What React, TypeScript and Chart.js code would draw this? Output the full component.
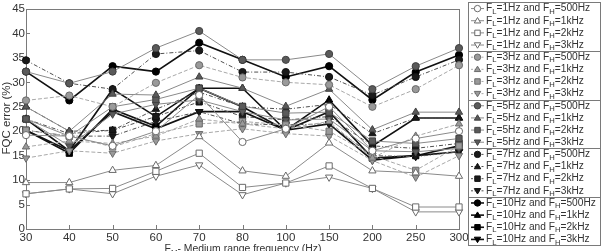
import React, { useEffect, useRef } from 'react';
import { Chart, registerables } from 'chart.js';
Chart.register(...registerables);

const categories = ['30', '40', '50', '60', '70', '80', '100', '150', '200', '250', '300'];
const yMin = 0;
const yMax = 45;
const yStep = 5;

const fl1_fh500 = [19.2, 19.0, 17.0, 20.0, 27.4, 17.8, 20.5, 25.0, 16.0, 18.5, 20.0];
const fl1_fh1k = [9.5, 9.5, 12.0, 13.0, 18.9, 11.9, 10.8, 17.6, 11.9, 11.5, 10.8];
const fl1_fh2k = [7.2, 8.2, 8.3, 11.8, 15.5, 8.5, 9.4, 12.9, 8.3, 4.5, 4.5];
const fl1_fh3k = [7.2, 8.2, 7.2, 10.8, 13.1, 7.0, 9.4, 10.6, 8.3, 3.5, 3.5];

const fl3_fh500 = [26.3, 27.3, 25.0, 29.9, 33.5, 31.0, 30.0, 29.5, 25.0, 28.6, 33.5];
const fl3_fh1k = [16.8, 18.0, 17.5, 19.0, 22.5, 21.5, 20.5, 22.0, 14.5, 19.0, 21.5];
const fl3_fh2k = [20.2, 19.0, 16.8, 19.5, 21.5, 22.0, 21.3, 20.0, 15.0, 12.0, 17.0];
const fl3_fh3k = [14.5, 16.0, 15.5, 18.0, 19.5, 20.5, 19.5, 19.0, 14.0, 10.6, 15.0];

const fl5_fh500 = [32.2, 29.8, 32.2, 37.0, 40.5, 34.6, 34.6, 35.8, 28.6, 33.3, 37.0];
const fl5_fh1k = [25.0, 20.0, 27.6, 27.4, 31.1, 28.8, 25.1, 28.6, 20.3, 23.9, 23.9];
const fl5_fh2k = [22.5, 19.0, 25.0, 26.5, 28.8, 25.1, 23.7, 23.9, 18.0, 17.5, 18.5];
const fl5_fh3k = [22.5, 17.0, 23.5, 25.5, 26.4, 24.0, 22.3, 22.5, 16.0, 15.8, 16.5];

const fl7_fh500 = [34.5, 29.8, 28.6, 35.8, 36.5, 32.1, 32.1, 31.1, 27.4, 31.1, 34.6];
const fl7_fh1k = [25.0, 20.0, 20.2, 24.5, 28.0, 25.0, 24.5, 25.5, 19.5, 22.7, 22.7];
const fl7_fh2k = [22.5, 19.5, 20.2, 23.0, 26.0, 23.0, 22.3, 23.0, 17.0, 16.5, 17.5];
const fl7_fh3k = [20.2, 19.0, 19.0, 22.0, 24.0, 21.5, 21.3, 21.5, 15.0, 14.8, 15.8];

const fl10_fh500 = [32.2, 26.3, 33.3, 32.2, 38.1, 34.6, 31.1, 33.3, 26.4, 32.1, 35.6];
const fl10_fh1k = [22.5, 16.0, 28.6, 23.0, 28.8, 28.8, 20.2, 26.4, 17.0, 22.7, 22.7];
const fl10_fh2k = [20.2, 15.5, 24.5, 21.0, 28.8, 25.0, 20.2, 24.0, 14.5, 15.0, 17.0];
const fl10_fh3k = [20.2, 16.0, 24.0, 20.5, 24.0, 24.0, 20.2, 21.5, 14.1, 15.0, 15.8];

const flLabels = ['1Hz', '3Hz', '5Hz', '7Hz', '10Hz'];
const fhLabels = ['500Hz', '1kHz', '2kHz', '3kHz'];
const seriesData = [
  [fl1_fh500, fl1_fh1k, fl1_fh2k, fl1_fh3k],
  [fl3_fh500, fl3_fh1k, fl3_fh2k, fl3_fh3k],
  [fl5_fh500, fl5_fh1k, fl5_fh2k, fl5_fh3k],
  [fl7_fh500, fl7_fh1k, fl7_fh2k, fl7_fh3k],
  [fl10_fh500, fl10_fh1k, fl10_fh2k, fl10_fh3k],
];

const FONT = '"Liberation Sans", Arial, sans-serif';

const groupStyles = [
  { line: '#8a8a8a', width: 1, dash: [] as number[], fill: '#ffffff', border: '#6a6a6a' },
  { line: '#a8a8a8', width: 1, dash: [4, 2], fill: '#9a9a9a', border: '#6a6a6a' },
  { line: '#8a8a8a', width: 1, dash: [] as number[], fill: '#5a5a5a', border: '#404040' },
  { line: '#505050', width: 1, dash: [4, 2, 1, 2], fill: '#1a1a1a', border: '#111111' },
  { line: '#111111', width: 1.6, dash: [] as number[], fill: '#000000', border: '#000000' },
];
const shapeStyles = [
  { style: 'circle', rotation: 0, radius: 3.6 },
  { style: 'triangle', rotation: 0, radius: 4.2 },
  { style: 'rect', rotation: 0, radius: 4.4 },
  { style: 'triangle', rotation: 180, radius: 4.2 },
];

type Part = { t: string; sub?: boolean };

function drawRich(ctx: CanvasRenderingContext2D, parts: Part[], x: number, y: number, size: number, measureOnly = false) {
  let cx = x;
  for (const p of parts) {
    const s = p.sub ? size * 0.75 : size;
    ctx.font = `${s}px ${FONT}`;
    if (!measureOnly) ctx.fillText(p.t, cx, p.sub ? y + size * 0.3 : y);
    cx += ctx.measureText(p.t).width;
  }
  return cx - x;
}

function fitSize(ctx: CanvasRenderingContext2D, parts: Part[], target: number) {
  const w = drawRich(ctx, parts, 0, 0, 10, true);
  return (10 * target) / w;
}

function drawMarker(ctx: CanvasRenderingContext2D, shape: number, x: number, y: number, fill: string, border: string) {
  ctx.save();
  ctx.fillStyle = fill;
  ctx.strokeStyle = border;
  ctx.lineWidth = 1;
  ctx.setLineDash([]);
  ctx.beginPath();
  const r = 3.2;
  if (shape === 0) {
    ctx.arc(x, y, r, 0, Math.PI * 2);
  } else if (shape === 2) {
    ctx.rect(x - r * 0.85, y - r * 0.85, r * 1.7, r * 1.7);
  } else {
    const d = shape === 1 ? 1 : -1;
    ctx.moveTo(x, y - d * r);
    ctx.lineTo(x + r, y + d * r * 0.7);
    ctx.lineTo(x - r, y + d * r * 0.7);
    ctx.closePath();
  }
  ctx.fill();
  ctx.stroke();
  ctx.restore();
}

const overlayPlugin = {
  id: 'overlay',
  beforeDatasetsDraw(chart: any) {
    const ctx: CanvasRenderingContext2D = chart.ctx;
    const { left, right, top, bottom } = chart.chartArea;
    ctx.save();
    ctx.strokeStyle = '#7a7a7a';
    ctx.lineWidth = 1;
    ctx.strokeRect(Math.round(left) + 0.5, Math.round(top) + 0.5, Math.round(right - left), Math.round(bottom - top));
    const xs = chart.scales.x;
    const ys = chart.scales.y;
    ctx.beginPath();
    for (let i = 0; i < categories.length; i++) {
      const px = Math.round(xs.getPixelForValue(i)) + 0.5;
      ctx.moveTo(px, bottom);
      ctx.lineTo(px, bottom - 4);
    }
    for (let v = yMin; v <= yMax; v += yStep) {
      const py = Math.round(ys.getPixelForValue(v)) + 0.5;
      ctx.moveTo(left, py);
      ctx.lineTo(left + 4, py);
    }
    ctx.stroke();
    ctx.restore();
  },
  afterDraw(chart: any) {
    const ctx: CanvasRenderingContext2D = chart.ctx;
    ctx.save();
    ctx.fillStyle = '#333333';
    ctx.textBaseline = 'alphabetic';
    const titleParts: Part[] = [{ t: 'F' }, { t: 'M', sub: true }, { t: '- Medium range frequency (Hz)' }];
    const ts = Math.min(12.5, fitSize(ctx, titleParts, 157));
    const tw = drawRich(ctx, titleParts, 0, 0, ts, true);
    drawRich(ctx, titleParts, 243 - tw / 2, 251.5, ts);

    ctx.save();
    ctx.translate(7, 118);
    ctx.rotate(-Math.PI / 2);
    ctx.font = `11.5px ${FONT}`;
    ctx.textAlign = 'center';
    ctx.textBaseline = 'middle';
    ctx.fillText('FQC error (%)', 0, 0);
    ctx.restore();

    const bx = 468.5, by = 2.5, bw = 132, bh = 243;
    const rowH = bh / 20;
    ctx.strokeStyle = '#7a7a7a';
    ctx.lineWidth = 1;
    ctx.strokeRect(bx, by, bw, bh);
    ctx.beginPath();
    for (let g = 1; g < 5; g++) {
      const sy = Math.round(by + g * 4 * rowH) + 0.5;
      ctx.moveTo(bx, sy);
      ctx.lineTo(bx + bw, sy);
    }
    ctx.stroke();
    const longest: Part[] = [
      { t: 'F' }, { t: 'L', sub: true }, { t: '=10Hz and F' }, { t: 'H', sub: true }, { t: '=500Hz' },
    ];
    const ls = fitSize(ctx, longest, 110);
    ctx.textBaseline = 'middle';
    for (let g = 0; g < 5; g++) {
      const gs = groupStyles[g];
      for (let s = 0; s < 4; s++) {
        const i = g * 4 + s;
        const cy = by + (i + 0.5) * rowH;
        ctx.save();
        ctx.strokeStyle = gs.line;
        ctx.lineWidth = gs.width;
        ctx.setLineDash(gs.dash.length ? [2, 1.5] : []);
        ctx.beginPath();
        ctx.moveTo(471, cy);
        ctx.lineTo(484, cy);
        ctx.stroke();
        ctx.restore();
        drawMarker(ctx, s, 477.5, cy, gs.fill, gs.border);
        ctx.fillStyle = '#333333';
        const parts: Part[] = [
          { t: 'F' }, { t: 'L', sub: true }, { t: '=' + flLabels[g] + ' and F' },
          { t: 'H', sub: true }, { t: '=' + fhLabels[s] },
        ];
        drawRich(ctx, parts, 486, cy, ls);
      }
    }
    ctx.restore();
  },
};

export default function App() {
  const ref = useRef<HTMLCanvasElement | null>(null);
  useEffect(() => {
    document.body.style.margin = '0';
    const canvas = ref.current;
    if (!canvas) return;
    const datasets: any[] = [];
    for (let g = 0; g < 5; g++) {
      for (let s = 0; s < 4; s++) {
        const gs = groupStyles[g];
        const sh = shapeStyles[s];
        datasets.push({
          label: `FL=${flLabels[g]} and FH=${fhLabels[s]}`,
          data: seriesData[g][s],
          borderColor: gs.line,
          borderWidth: gs.width,
          borderDash: gs.dash,
          backgroundColor: gs.fill,
          pointBackgroundColor: gs.fill,
          pointBorderColor: gs.border,
          pointBorderWidth: 1,
          pointStyle: sh.style,
          pointRotation: sh.rotation,
          pointRadius: sh.radius,
          tension: 0,
          fill: false,
          clip: false,
        });
      }
    }
    const chart = new Chart(canvas, {
      type: 'line',
      data: { labels: categories, datasets },
      options: {
        responsive: false,
        animation: false,
        devicePixelRatio: 1,
        layout: { padding: { top: 9, right: 144, left: 0, bottom: 0 } },
        plugins: { legend: { display: false }, tooltip: { enabled: false } },
        scales: {
          x: {
            type: 'category',
            offset: false,
            grid: { display: false, drawTicks: false },
            border: { display: false },
            ticks: { color: '#333', font: { family: FONT, size: 11.5 }, padding: 2, maxRotation: 0, autoSkip: false },
            afterFit: (scale: any) => { scale.height = 22; },
          },
          y: {
            min: yMin,
            max: yMax,
            grid: { display: false, drawTicks: false },
            border: { display: false },
            ticks: { stepSize: yStep, color: '#333', font: { family: FONT, size: 11.5 }, padding: 1 },
            afterFit: (scale: any) => { scale.width = 26; },
          },
        },
      },
      plugins: [overlayPlugin],
    });
    return () => chart.destroy();
  }, []);
  return <canvas ref={ref} width={603} height={251} style={{ display: 'block' }} />;
}
